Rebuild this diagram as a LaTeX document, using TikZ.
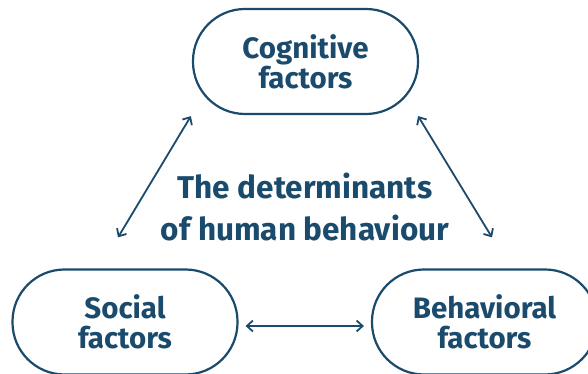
\documentclass[tikz,border=0pt]{standalone}
\usepackage{fontspec}
\setmainfont{Fira Sans}
\usepackage{xcolor}
\usetikzlibrary{positioning}
\usetikzlibrary{arrows.meta}

\definecolor{navy}{HTML}{1A4A6C}

\begin{document}
\begin{tikzpicture}[x=1pt, y=1pt, >={Straight Barb[length=6pt,width=11pt]},
    factor/.style={draw=navy, line width=2.2pt, rounded corners=52pt, minimum width=225pt, minimum height=105pt, align=center, text=navy, font=\fontsize{29.5}{30}\selectfont\bfseries},
    link/.style={draw=navy, line width=1.8pt, <->}]
    \useasboundingbox (0,0) rectangle (588,374);
    \node [align=center, text=navy, font=\fontsize{31.5}{42}\selectfont\bfseries] (title) at (305,167) {The determinants \\ of human behaviour};
    \node [factor] (cognitive) at (305.5,312.5) {Cognitive \\ factors};
    \node [factor] (social) at (125,52) {Social \\ factors};
    \node [factor] (behavioral) at (484.5,52) {Behavioral \\ factors};

    \draw [link] ([shift={(-1pt,-1pt)}]cognitive.south west) -- ([shift={(-7pt,31pt)}]social.north);
    \draw [link] ([shift={(-1pt,-1pt)}]cognitive.south east) -- ([shift={(7.5pt,31pt)}]behavioral.north);
    \draw [link] ([shift={(7pt,-4pt)}]social.east) -- ([shift={(-7pt,-4pt)}]behavioral.west);
\end{tikzpicture}
\end{document}
